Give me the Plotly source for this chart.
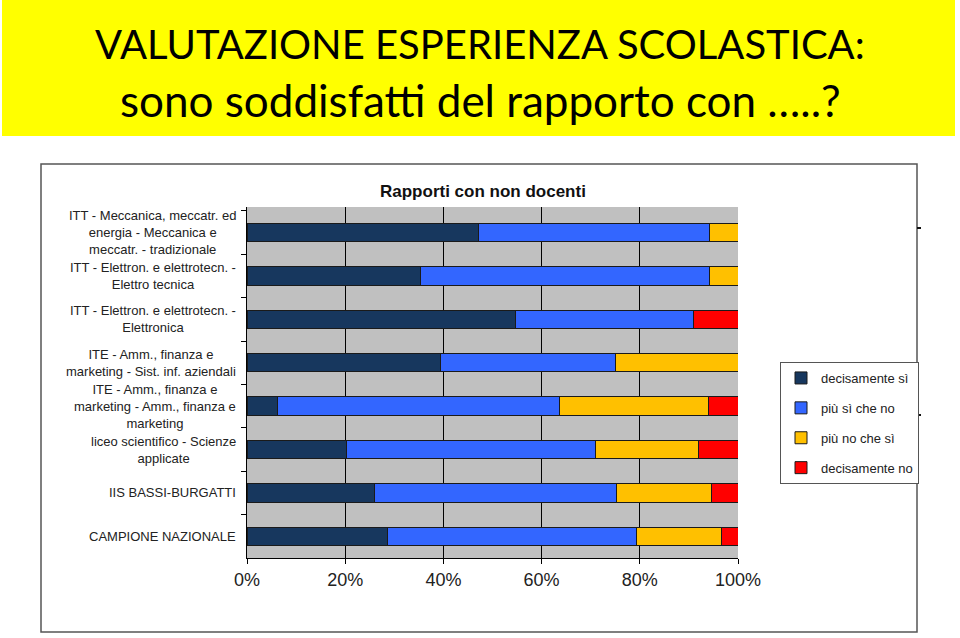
import plotly.graph_objects as go

categories = [
    "ITT - Meccanica, meccatr. ed<br>energia - Meccanica e<br>meccatr. - tradizionale",
    "ITT - Elettron. e elettrotecn. -<br>Elettro tecnica",
    "ITT - Elettron. e elettrotecn. -<br>Elettronica",
    "ITE - Amm., finanza e<br>marketing - Sist. inf. aziendali",
    "ITE - Amm., finanza e<br>marketing - Amm., finanza e<br>marketing",
    "liceo scientifico - Scienze<br>applicate",
    "IIS BASSI-BURGATTI",
    "CAMPIONE NAZIONALE",
]
decisamente_si = [47.2, 35.4, 54.6, 39.5, 6.2, 20.3, 25.9, 28.7]
piu_si_che_no = [47.0, 58.8, 36.3, 35.5, 57.4, 50.7, 49.3, 50.6]
piu_no_che_si = [5.8, 5.8, 0.0, 25.0, 30.4, 21.0, 19.4, 17.3]
decisamente_no = [0.0, 0.0, 9.1, 0.0, 6.0, 8.0, 5.4, 3.4]
series_names = ["decisamente sì", "più sì che no", "più no che sì", "decisamente no"]
series_values = [decisamente_si, piu_si_che_no, piu_no_che_si, decisamente_no]
series_colors = ["#17375E", "#3366FF", "#FFC000", "#FF0000"]
x_ticks = [0, 20, 40, 60, 80, 100]
x_tick_labels = ["0%", "20%", "40%", "60%", "80%", "100%"]

W, H = 960, 638
L, R, T, B = 247, 738, 207, 558


def px(x):
    return (x - L) / (R - L)


def py(y):
    return (B - y) / (B - T)


fig = go.Figure()
for i, (name, vals, col) in enumerate(zip(series_names, series_values, series_colors)):
    fig.add_trace(go.Bar(
        y=categories, x=vals, name=name, orientation="h",
        marker=dict(color=col, line=dict(color="#1a1a1a", width=1)),
        legendgroup=str(i),
    ))

shapes = [
    dict(type="rect", xref="paper", yref="paper", x0=px(2), x1=px(955), y0=py(0), y1=py(136),
         fillcolor="#FFFF00", line=dict(width=0), layer="below"),
    dict(type="rect", xref="paper", yref="paper", x0=px(41), x1=px(917), y0=py(164), y1=py(632),
         fillcolor="rgba(0,0,0,0)", line=dict(color="#555555", width=1.5), layer="below"),
    dict(type="line", xref="paper", yref="paper", x0=px(917), x1=px(921), y0=py(228), y1=py(228),
         line=dict(color="#111", width=2)),
    dict(type="line", xref="paper", yref="paper", x0=px(917), x1=px(921), y0=py(415), y1=py(415),
         line=dict(color="#111", width=2)),
]

annotations = [
    dict(text="VALUTAZIONE ESPERIENZA SCOLASTICA:", xref="paper", yref="paper",
         x=px(480), y=py(44), xanchor="center", yanchor="middle", showarrow=False,
         font=dict(family="Lato", size=40, color="#000")),
    dict(text="sono soddisfatti del rapporto con …..?", xref="paper", yref="paper",
         x=px(480), y=py(100), xanchor="center", yanchor="middle", showarrow=False,
         font=dict(family="Lato", size=44, color="#000")),
    dict(text="<b>Rapporti con non docenti</b>", xref="paper", yref="paper",
         x=px(483), y=py(192), xanchor="center", yanchor="middle", showarrow=False,
         font=dict(family="Liberation Sans", size=17, color="#111")),
]

# category labels: centred text blocks, right-aligned next to the axis
for c in categories:
    annotations.append(dict(text=c, xref="paper", yref="y", x=px(237), y=c,
                            xanchor="right", yanchor="middle", align="center",
                            showarrow=False, borderpad=0,
                            font=dict(family="Liberation Sans", size=13, color="#222")))

fig.update_layout(
    width=W, height=H,
    margin=dict(l=L, r=W - R, t=T, b=H - B, pad=0),
    barmode="stack", bargap=0.58,
    paper_bgcolor="white", plot_bgcolor="#C0C0C0",
    font=dict(family="Liberation Sans", color="#222"),
    shapes=shapes, annotations=annotations,
    legend=dict(x=px(780), y=py(362), xanchor="left", yanchor="top",
                bgcolor="white", bordercolor="#555", borderwidth=1,
                font=dict(size=13, color="#222"), traceorder="grouped",
                tracegroupgap=10, itemwidth=30),
    xaxis=dict(range=[0, 100], tickmode="array", tickvals=x_ticks, ticktext=x_tick_labels,
               showgrid=True, gridcolor="#000", gridwidth=1, zeroline=False, showline=True,
               linecolor="#000", linewidth=1, ticks="outside", ticklen=5, tickcolor="#000",
               tickfont=dict(size=18, color="#222"), fixedrange=True),
    yaxis=dict(type="category", categoryorder="array", categoryarray=categories,
               autorange="reversed", showticklabels=False, showgrid=False,
               showline=True, linecolor="#000", linewidth=1, ticks="outside",
               tickson="boundaries", ticklen=5, tickcolor="#000"),
)

fig.write_html("out.html")
